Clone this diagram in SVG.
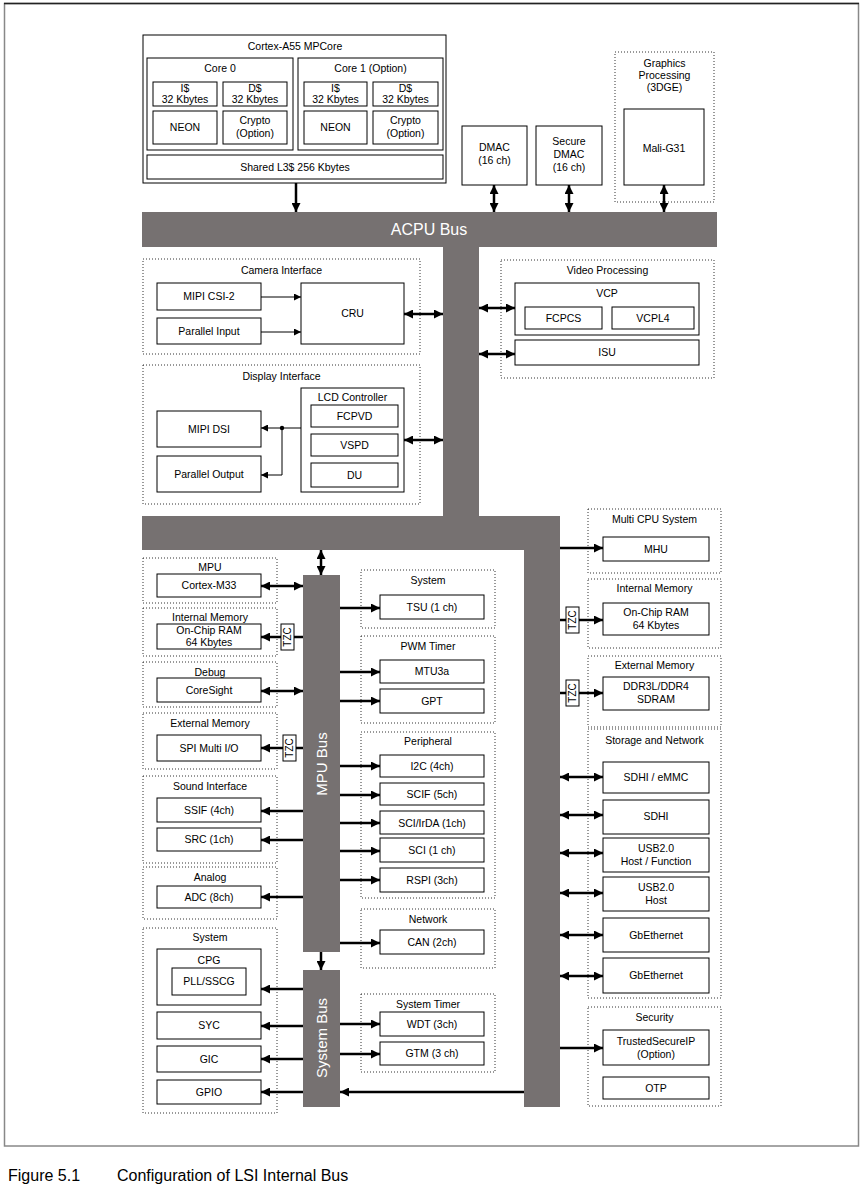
<svg xmlns="http://www.w3.org/2000/svg" width="864" height="1187" viewBox="0 0 864 1187">
<style>
.bx{fill:#fff;stroke:#000;stroke-width:1}
.gp{fill:none;stroke:#333;stroke-width:1;stroke-dasharray:1 2}
.bus{fill:#767171}
text{font-family:"Liberation Sans",Arial,Helvetica,sans-serif;font-size:10.5px;text-anchor:middle;fill:#000}
.bt{fill:#fff;font-size:15px}
.tz{font-size:10px}
.tk{stroke:#000;stroke-width:2.5;fill:none}
.tn{stroke:#000;stroke-width:1;fill:none}
.cap{font-size:16px;text-anchor:start}
</style>
<defs>
<marker id="a" viewBox="0 0 10 10" refX="10" refY="5" markerWidth="10" markerHeight="9" markerUnits="userSpaceOnUse" orient="auto-start-reverse"><path d="M0,0L10,5L0,10z" fill="#000"/></marker>
<marker id="s" viewBox="0 0 10 10" refX="10" refY="5" markerWidth="8" markerHeight="7" markerUnits="userSpaceOnUse" orient="auto-start-reverse"><path d="M0,0L10,5L0,10z" fill="#000"/></marker>
</defs>
<rect width="864" height="1187" fill="#fff"/>
<rect x="4.5" y="3.5" width="854" height="1142.5" fill="none" stroke="#888" stroke-width="1.5"/>
<line x1="4" y1="3.5" x2="859" y2="3.5" stroke="#222" stroke-width="1.5"/>

<g id="buses">
<rect class="bus" x="142" y="212" width="575" height="35"/>
<rect class="bus" x="443" y="246" width="36" height="272"/>
<rect class="bus" x="142" y="516" width="418" height="34"/>
<rect class="bus" x="524" y="516" width="36" height="591"/>
<rect class="bus" x="303" y="575" width="37" height="377"/>
<rect class="bus" x="303" y="970" width="37" height="137"/>
<text class="bt" x="429" y="235" style="font-size:16px">ACPU Bus</text>
<text class="bt" transform="translate(327,764) rotate(-90)">MPU Bus</text>
<text class="bt" transform="translate(327,1038) rotate(-90)">System Bus</text>
</g>

<g id="cortex-a55">
<rect class="bx" x="143" y="35" width="303" height="148" stroke-width="1.3"/>
<text x="295" y="50">Cortex-A55 MPCore</text>
<rect class="bx" x="147" y="58" width="146" height="92"/>
<text x="220" y="72">Core 0</text>
<rect class="bx" x="153" y="82" width="64" height="24"/>
<text x="185" y="92">I$</text><text x="185" y="103">32 Kbytes</text>
<rect class="bx" x="223" y="82" width="64" height="24"/>
<text x="255" y="92">D$</text><text x="255" y="103">32 Kbytes</text>
<rect class="bx" x="153" y="111" width="64" height="33"/>
<text x="185" y="131">NEON</text>
<rect class="bx" x="223" y="111" width="64" height="33"/>
<text x="255" y="124">Crypto</text><text x="255" y="137">(Option)</text>
<rect class="bx" x="298" y="58" width="145" height="92"/>
<text x="370.5" y="72">Core 1 (Option)</text>
<rect class="bx" x="304" y="82" width="63" height="24"/>
<text x="335.5" y="92">I$</text><text x="335.5" y="103">32 Kbytes</text>
<rect class="bx" x="373" y="82" width="65" height="24"/>
<text x="405.5" y="92">D$</text><text x="405.5" y="103">32 Kbytes</text>
<rect class="bx" x="304" y="111" width="63" height="33"/>
<text x="335.5" y="131">NEON</text>
<rect class="bx" x="373" y="111" width="65" height="33"/>
<text x="405.5" y="124">Crypto</text><text x="405.5" y="137">(Option)</text>
<rect class="bx" x="147" y="155" width="296" height="24"/>
<text x="295" y="171">Shared L3$ 256 Kbytes</text>
</g>

<g id="dmac">
<rect class="bx" x="462" y="126" width="65" height="59"/>
<text x="494.5" y="151">DMAC</text><text x="494.5" y="164">(16 ch)</text>
</g>
<g id="secure-dmac">
<rect class="bx" x="536" y="126" width="66" height="59"/>
<text x="569" y="145">Secure</text><text x="569" y="158">DMAC</text><text x="569" y="171">(16 ch)</text>
</g>
<g id="graphics">
<rect class="gp" x="615" y="52" width="99" height="150"/>
<text x="664.5" y="67">Graphics</text><text x="664.5" y="79">Processing</text><text x="664.5" y="91">(3DGE)</text>
<rect class="bx" x="624" y="109" width="80" height="76"/>
<text x="664" y="152">Mali-G31</text>
</g>

<g id="camera">
<rect class="gp" x="143" y="259" width="277" height="95"/>
<text x="281.5" y="274">Camera Interface</text>
<rect class="bx" x="157" y="283" width="104" height="27"/>
<text x="209" y="300">MIPI CSI-2</text>
<rect class="bx" x="157" y="318" width="104" height="26"/>
<text x="209" y="335">Parallel Input</text>
<rect class="bx" x="301" y="283" width="103" height="61"/>
<text x="352.5" y="317">CRU</text>
</g>

<g id="display">
<rect class="gp" x="143" y="365" width="277" height="139"/>
<text x="281.5" y="380">Display Interface</text>
<rect class="bx" x="301" y="388" width="103" height="104"/>
<text x="352.5" y="401">LCD Controller</text>
<rect class="bx" x="311" y="405" width="87" height="22"/>
<text x="354.5" y="420">FCPVD</text>
<rect class="bx" x="311" y="434" width="87" height="22"/>
<text x="354.5" y="449">VSPD</text>
<rect class="bx" x="311" y="463" width="87" height="24"/>
<text x="354.5" y="479">DU</text>
<rect class="bx" x="157" y="411" width="104" height="36"/>
<text x="209" y="433">MIPI DSI</text>
<rect class="bx" x="157" y="456" width="104" height="36"/>
<text x="209" y="478">Parallel Output</text>
</g>

<g id="video">
<rect class="gp" x="501" y="260" width="213" height="118"/>
<text x="607.5" y="274">Video Processing</text>
<rect class="bx" x="515" y="283" width="184" height="52"/>
<text x="607" y="297">VCP</text>
<rect class="bx" x="525" y="307" width="77" height="22"/>
<text x="563.5" y="322">FCPCS</text>
<rect class="bx" x="612" y="307" width="82" height="22"/>
<text x="653" y="322">VCPL4</text>
<rect class="bx" x="515" y="340" width="184" height="25"/>
<text x="607" y="356">ISU</text>
</g>

<g id="mpu">
<rect class="gp" x="143" y="558" width="134" height="45"/>
<text x="210" y="571">MPU</text>
<rect class="bx" x="157" y="574" width="104" height="23"/>
<text x="209" y="589">Cortex-M33</text>
</g>
<g id="int-mem-left">
<rect class="gp" x="143" y="608" width="134" height="48"/>
<text x="210" y="621">Internal Memory</text>
<rect class="bx" x="157" y="624" width="104" height="25"/>
<text x="209" y="634">On-Chip RAM</text><text x="209" y="646">64 Kbytes</text>
<rect class="bx" x="281" y="624" width="13" height="26"/>
<text class="tz" transform="translate(291.2,637) rotate(-90)">TZC</text>
</g>
<g id="debug">
<rect class="gp" x="143" y="662" width="134" height="45"/>
<text x="210" y="676">Debug</text>
<rect class="bx" x="157" y="678" width="104" height="24"/>
<text x="209" y="694">CoreSight</text>
</g>
<g id="ext-mem-left">
<rect class="gp" x="143" y="713" width="134" height="56"/>
<text x="210" y="727">External Memory</text>
<rect class="bx" x="157" y="735" width="104" height="26"/>
<text x="209" y="752">SPI Multi I/O</text>
<rect class="bx" x="283" y="735" width="13" height="26"/>
<text class="tz" transform="translate(293.2,748) rotate(-90)">TZC</text>
</g>
<g id="sound">
<rect class="gp" x="143" y="776" width="134" height="87"/>
<text x="210" y="790">Sound Interface</text>
<rect class="bx" x="157" y="798" width="104" height="24"/>
<text x="209" y="814">SSIF (4ch)</text>
<rect class="bx" x="157" y="828" width="104" height="23"/>
<text x="209" y="843">SRC (1ch)</text>
</g>
<g id="analog">
<rect class="gp" x="143" y="867" width="134" height="52"/>
<text x="210" y="881">Analog</text>
<rect class="bx" x="157" y="886" width="104" height="22"/>
<text x="209" y="901">ADC (8ch)</text>
</g>
<g id="system-left">
<rect class="gp" x="143" y="928" width="134" height="185"/>
<text x="210" y="941">System</text>
<rect class="bx" x="157" y="949" width="104" height="56"/>
<text x="209" y="964">CPG</text>
<rect class="bx" x="172" y="968" width="74" height="27"/>
<text x="209" y="985">PLL/SSCG</text>
<rect class="bx" x="157" y="1012" width="104" height="27"/>
<text x="209" y="1029">SYC</text>
<rect class="bx" x="157" y="1046" width="104" height="26"/>
<text x="209" y="1063">GIC</text>
<rect class="bx" x="157" y="1080" width="104" height="24"/>
<text x="209" y="1096">GPIO</text>
</g>

<g id="system-mid">
<rect class="gp" x="361" y="570" width="134" height="58"/>
<text x="428" y="584">System</text>
<rect class="bx" x="380" y="595" width="104" height="24"/>
<text x="432" y="611">TSU (1 ch)</text>
</g>
<g id="pwm">
<rect class="gp" x="361" y="636" width="134" height="87"/>
<text x="428" y="650">PWM Timer</text>
<rect class="bx" x="380" y="660" width="104" height="23"/>
<text x="432" y="675">MTU3a</text>
<rect class="bx" x="380" y="689" width="104" height="24"/>
<text x="432" y="705">GPT</text>
</g>
<g id="peripheral">
<rect class="gp" x="361" y="732" width="134" height="166"/>
<text x="428" y="745">Peripheral</text>
<rect class="bx" x="380" y="755" width="104" height="22"/>
<text x="432" y="770">I2C (4ch)</text>
<rect class="bx" x="380" y="783" width="104" height="22"/>
<text x="432" y="798">SCIF (5ch)</text>
<rect class="bx" x="380" y="811" width="104" height="23"/>
<text x="432" y="827">SCI/IrDA (1ch)</text>
<rect class="bx" x="380" y="838" width="104" height="24"/>
<text x="432" y="854">SCI (1 ch)</text>
<rect class="bx" x="380" y="868" width="104" height="24"/>
<text x="432" y="884">RSPI (3ch)</text>
</g>
<g id="network">
<rect class="gp" x="361" y="909" width="134" height="59"/>
<text x="428" y="923">Network</text>
<rect class="bx" x="380" y="930" width="104" height="24"/>
<text x="432" y="946">CAN (2ch)</text>
</g>
<g id="system-timer">
<rect class="gp" x="361" y="994" width="134" height="78"/>
<text x="428" y="1008">System Timer</text>
<rect class="bx" x="380" y="1012" width="104" height="24"/>
<text x="432" y="1028">WDT (3ch)</text>
<rect class="bx" x="380" y="1042" width="104" height="23"/>
<text x="432" y="1057">GTM (3 ch)</text>
</g>

<g id="multi-cpu">
<rect class="gp" x="588" y="509" width="133" height="64"/>
<text x="654.5" y="523">Multi CPU System</text>
<rect class="bx" x="603" y="537" width="106" height="24"/>
<text x="656" y="553">MHU</text>
</g>
<g id="int-mem-right">
<rect class="gp" x="588" y="579" width="133" height="69"/>
<text x="654.5" y="592">Internal Memory</text>
<rect class="bx" x="603" y="603" width="106" height="32"/>
<text x="656" y="616">On-Chip RAM</text><text x="656" y="629">64 Kbytes</text>
<rect class="bx" x="566" y="607" width="13" height="26"/>
<text class="tz" transform="translate(576.2,620) rotate(-90)">TZC</text>
</g>
<g id="ext-mem-right">
<rect class="gp" x="588" y="656" width="133" height="71"/>
<text x="654.5" y="669">External Memory</text>
<rect class="bx" x="603" y="677" width="106" height="33"/>
<text x="656" y="690">DDR3L/DDR4</text><text x="656" y="703">SDRAM</text>
<rect class="bx" x="566" y="680" width="13" height="26"/>
<text class="tz" transform="translate(576.2,693) rotate(-90)">TZC</text>
</g>
<g id="storage">
<rect class="gp" x="588" y="729" width="133" height="269"/>
<text x="654.5" y="744">Storage and Network</text>
<rect class="bx" x="603" y="762" width="106" height="31"/>
<text x="656" y="781">SDHI / eMMC</text>
<rect class="bx" x="603" y="800" width="106" height="34"/>
<text x="656" y="820">SDHI</text>
<rect class="bx" x="603" y="838" width="106" height="34"/>
<text x="656" y="852">USB2.0</text><text x="656" y="865">Host / Function</text>
<rect class="bx" x="603" y="877" width="106" height="34"/>
<text x="656" y="891">USB2.0</text><text x="656" y="904">Host</text>
<rect class="bx" x="603" y="918" width="106" height="34"/>
<text x="656" y="939">GbEthernet</text>
<rect class="bx" x="603" y="958" width="106" height="35"/>
<text x="656" y="979">GbEthernet</text>
</g>
<g id="security">
<rect class="gp" x="588" y="1007" width="133" height="99"/>
<text x="654.5" y="1021">Security</text>
<rect class="bx" x="603" y="1030" width="106" height="35"/>
<text x="656" y="1045">TrustedSecureIP</text><text x="656" y="1058">(Option)</text>
<rect class="bx" x="603" y="1077" width="106" height="22"/>
<text x="656" y="1092">OTP</text>
</g>

<g id="connectors">
<line class="tk" x1="296" y1="183" x2="296" y2="212" marker-end="url(#a)"/>
<line class="tk" x1="494" y1="185" x2="494" y2="212" marker-start="url(#a)" marker-end="url(#a)"/>
<line class="tk" x1="569" y1="185" x2="569" y2="212" marker-start="url(#a)" marker-end="url(#a)"/>
<line class="tk" x1="664" y1="185" x2="664" y2="212" marker-start="url(#a)" marker-end="url(#a)"/>
<line class="tn" x1="261" y1="297" x2="301" y2="297" marker-end="url(#s)"/>
<line class="tn" x1="261" y1="332" x2="301" y2="332" marker-end="url(#s)"/>
<line class="tk" x1="404" y1="314" x2="443" y2="314" marker-start="url(#a)" marker-end="url(#a)"/>
<polyline class="tn" points="301,428 282,428 282,475 261,475" marker-end="url(#s)"/>
<line class="tn" x1="282" y1="428" x2="261" y2="428" marker-end="url(#s)"/>
<circle cx="282" cy="428" r="2.2" fill="#000"/>
<line class="tk" x1="404" y1="440" x2="443" y2="440" marker-start="url(#a)" marker-end="url(#a)"/>
<line class="tk" x1="479" y1="308" x2="515" y2="308" marker-start="url(#a)" marker-end="url(#a)"/>
<line class="tk" x1="479" y1="354" x2="515" y2="354" marker-start="url(#a)" marker-end="url(#a)"/>
<line class="tk" x1="321" y1="550" x2="321" y2="575" marker-start="url(#a)" marker-end="url(#a)"/>
<line class="tk" x1="321" y1="952" x2="321" y2="970" marker-end="url(#a)"/>
<line class="tk" x1="261" y1="586" x2="303" y2="586" marker-start="url(#a)" marker-end="url(#a)"/>
<line class="tk" x1="294" y1="637" x2="303" y2="637"/>
<line class="tk" x1="281" y1="637" x2="261" y2="637" marker-end="url(#a)"/>
<line class="tk" x1="261" y1="691" x2="303" y2="691" marker-start="url(#a)" marker-end="url(#a)"/>
<line class="tk" x1="296" y1="748" x2="303" y2="748"/>
<line class="tk" x1="283" y1="748" x2="261" y2="748" marker-end="url(#a)"/>
<line class="tk" x1="303" y1="811" x2="261" y2="811" marker-end="url(#a)"/>
<line class="tk" x1="303" y1="840" x2="261" y2="840" marker-end="url(#a)"/>
<line class="tk" x1="303" y1="897" x2="261" y2="897" marker-end="url(#a)"/>
<line class="tk" x1="303" y1="989" x2="261" y2="989" marker-end="url(#a)"/>
<line class="tk" x1="303" y1="1026" x2="261" y2="1026" marker-end="url(#a)"/>
<line class="tk" x1="303" y1="1059" x2="261" y2="1059" marker-end="url(#a)"/>
<line class="tk" x1="303" y1="1092" x2="261" y2="1092" marker-end="url(#a)"/>
<line class="tk" x1="340" y1="608" x2="380" y2="608" marker-end="url(#a)"/>
<line class="tk" x1="340" y1="672" x2="380" y2="672" marker-end="url(#a)"/>
<line class="tk" x1="340" y1="701" x2="380" y2="701" marker-end="url(#a)"/>
<line class="tk" x1="340" y1="766" x2="380" y2="766" marker-end="url(#a)"/>
<line class="tk" x1="340" y1="795" x2="380" y2="795" marker-end="url(#a)"/>
<line class="tk" x1="340" y1="823" x2="380" y2="823" marker-end="url(#a)"/>
<line class="tk" x1="340" y1="851" x2="380" y2="851" marker-end="url(#a)"/>
<line class="tk" x1="340" y1="880" x2="380" y2="880" marker-end="url(#a)"/>
<line class="tk" x1="340" y1="943" x2="380" y2="943" marker-end="url(#a)"/>
<line class="tk" x1="340" y1="1024" x2="380" y2="1024" marker-end="url(#a)"/>
<line class="tk" x1="340" y1="1054" x2="380" y2="1054" marker-end="url(#a)"/>
<line class="tk" x1="524" y1="1092" x2="340" y2="1092" marker-end="url(#a)"/>
<line class="tk" x1="560" y1="548" x2="603" y2="548" marker-end="url(#a)"/>
<line class="tk" x1="560" y1="620" x2="566" y2="620"/>
<line class="tk" x1="579" y1="620" x2="603" y2="620" marker-end="url(#a)"/>
<line class="tk" x1="560" y1="693" x2="566" y2="693"/>
<line class="tk" x1="579" y1="693" x2="603" y2="693" marker-end="url(#a)"/>
<line class="tk" x1="560" y1="777" x2="603" y2="777" marker-start="url(#a)" marker-end="url(#a)"/>
<line class="tk" x1="560" y1="815" x2="603" y2="815" marker-start="url(#a)" marker-end="url(#a)"/>
<line class="tk" x1="560" y1="853" x2="603" y2="853" marker-start="url(#a)" marker-end="url(#a)"/>
<line class="tk" x1="560" y1="893" x2="603" y2="893" marker-start="url(#a)" marker-end="url(#a)"/>
<line class="tk" x1="560" y1="935" x2="603" y2="935" marker-start="url(#a)" marker-end="url(#a)"/>
<line class="tk" x1="560" y1="976" x2="603" y2="976" marker-start="url(#a)" marker-end="url(#a)"/>
<line class="tk" x1="560" y1="1048" x2="603" y2="1048" marker-end="url(#a)"/>
</g>

<text class="cap" x="8" y="1181">Figure 5.1</text>
<text class="cap" x="117" y="1181">Configuration of LSI Internal Bus</text>
</svg>
